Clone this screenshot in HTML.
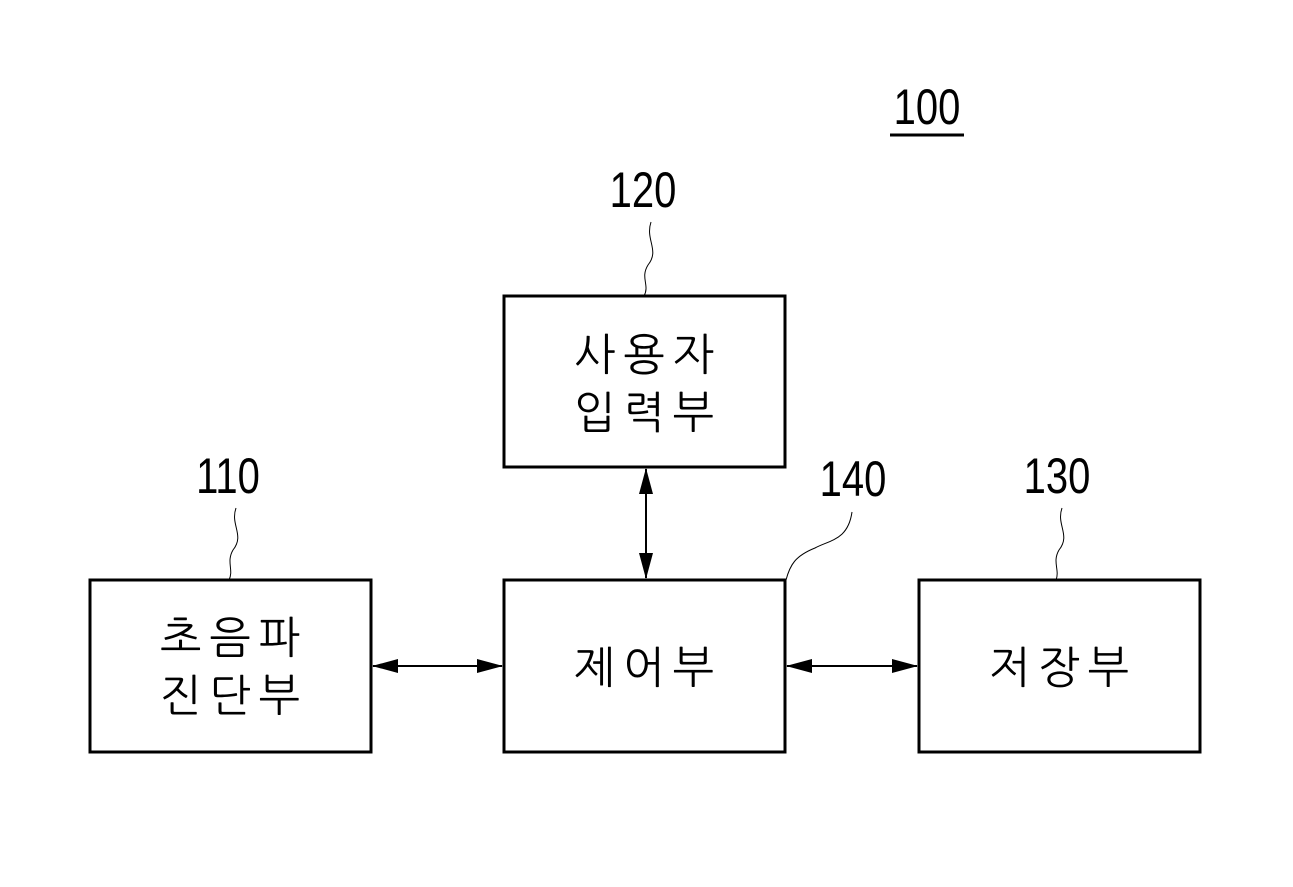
<!DOCTYPE html>
<html><head><meta charset="utf-8"><style>
html,body{margin:0;padding:0;background:#fff;}
svg{display:block;}
.n{font-family:"Liberation Sans",sans-serif;font-size:50px;fill:#000;}
.k{font-family:"Liberation Sans","NanumGothic","Noto Sans CJK KR",sans-serif;font-size:44px;fill:#000;letter-spacing:8px;}
</style></head><body>
<svg width="1293" height="887" viewBox="0 0 1293 887" xmlns="http://www.w3.org/2000/svg">
<defs>
<marker id="a" markerWidth="26" markerHeight="14" refX="25" refY="7" orient="auto-start-reverse" markerUnits="userSpaceOnUse">
<path d="M0,0 L26,7 L0,14 Z" fill="#000"/></marker>
</defs>
<g fill="none" stroke="#000" stroke-width="3">
<rect x="90" y="580" width="281" height="172"/>
<rect x="504" y="296" width="281" height="171"/>
<rect x="504" y="580" width="281" height="172"/>
<rect x="919" y="580" width="281" height="172"/>
</g>
<g stroke="#000" stroke-width="2" fill="none">
<line x1="646" y1="469" x2="646" y2="578" marker-start="url(#a)" marker-end="url(#a)"/>
<line x1="373" y1="666" x2="502" y2="666" marker-start="url(#a)" marker-end="url(#a)"/>
<line x1="787" y1="666" x2="917" y2="666" marker-start="url(#a)" marker-end="url(#a)"/>
</g>
<g stroke="#000" stroke-width="1" fill="none">
<path d="M651,222 C645,240 660,250 648,265 C640,278 650,285 644,296"/>
<path d="M236,508 C230,525 245,535 233,550 C226,562 234,570 229,580"/>
<path d="M1062,508 C1056,525 1071,535 1059,550 C1052,562 1060,570 1056,580"/>
<path d="M852,512 C848,540 830,540 815,548 C795,556 790,565 786,580"/>
</g>
<line x1="890" y1="135" x2="964" y2="135" stroke="#000" stroke-width="3"/>
<g class="n">
<text x="927" y="124" text-anchor="middle" transform="translate(927 0) scale(0.8 1) translate(-927 0)">100</text>
<text x="643" y="207" text-anchor="middle" transform="translate(643 0) scale(0.8 1) translate(-643 0)">120</text>
<text x="228" y="493" text-anchor="middle" transform="translate(228 0) scale(0.8 1) translate(-228 0)">110</text>
<text x="853" y="496" text-anchor="middle" transform="translate(853 0) scale(0.8 1) translate(-853 0)">140</text>
<text x="1057" y="493" text-anchor="middle" transform="translate(1057 0) scale(0.8 1) translate(-1057 0)">130</text>
</g>
<g class="k" text-anchor="middle">
<text x="648" y="370">사용자</text>
<text x="648" y="428">입력부</text>
<text x="234" y="653">초음파</text>
<text x="234" y="711">진단부</text>
<text x="648" y="683">제어부</text>
<text x="1063" y="683">저장부</text>
</g>
</svg>
</body></html>
